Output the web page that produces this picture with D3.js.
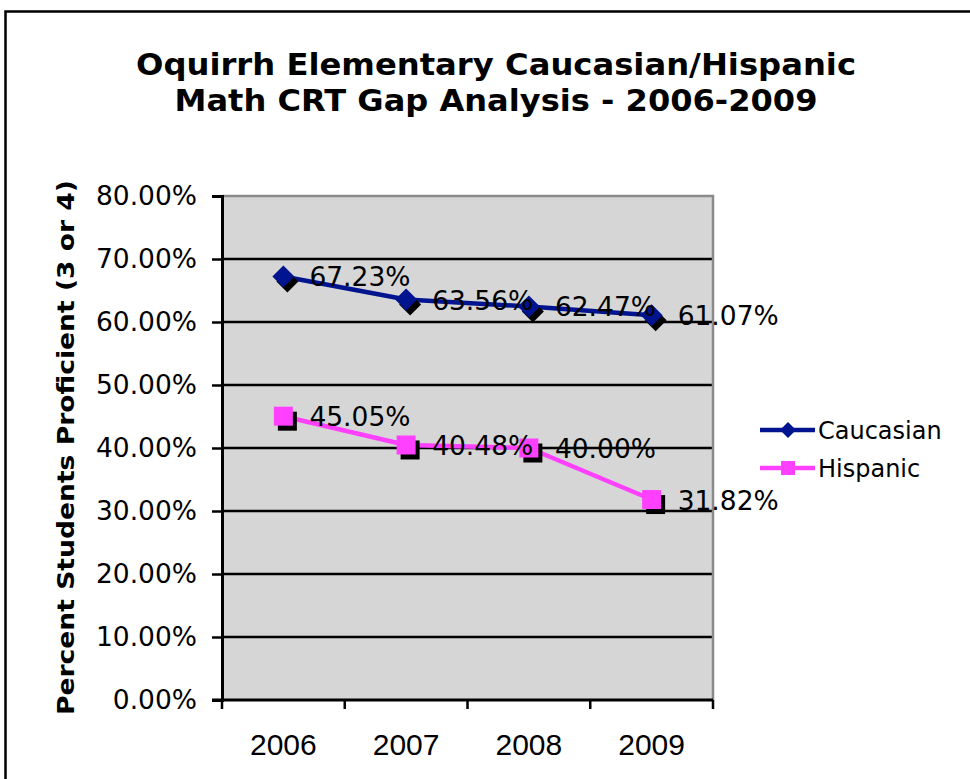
<!DOCTYPE html>
<html>
<head>
<meta charset="utf-8">
<script src="https://cdn.jsdelivr.net/npm/d3@7"></script>
<style>
  html, body { margin: 0; padding: 0; background: #fff; }
  svg { display: block; }
</style>
</head>
<body>
<div id="chart"></div>
<script>
const WIDTH = 970;
const HEIGHT = 779;

// data
const years = ["2006", "2007", "2008", "2009"];
const caucasian = [0.6723, 0.6356, 0.6247, 0.6107];
const hispanic = [0.4505, 0.4048, 0.4000, 0.3182];
const yTicks = [0, 0.1, 0.2, 0.3, 0.4, 0.5, 0.6, 0.7, 0.8];
const seriesNames = ["Caucasian", "Hispanic"];

const NAVY = "#00148f";
const PINK = "#ff40ff";
const plot = { left: 222, right: 713, top: 196, bottom: 700 };

const svg = d3.select("#chart").append("svg")
  .attr("width", WIDTH)
  .attr("height", HEIGHT);

// outer chart frame (runs off the right/bottom edge)
svg.append("rect")
  .attr("x", 5.5).attr("y", 11.5)
  .attr("width", 1000).attr("height", 1000)
  .attr("fill", "#fff")
  .attr("stroke", "#000")
  .attr("stroke-width", 2.5);

// title
const titleLines = [
  { t: "Oquirrh Elementary Caucasian/Hispanic", y: 75, len: 720 },
  { t: "Math CRT Gap Analysis - 2006-2009", y: 111, len: 643 }
];
svg.selectAll("text.title")
  .data(titleLines)
  .enter().append("text")
  .attr("class", "title")
  .attr("x", 496)
  .attr("y", d => d.y)
  .attr("text-anchor", "middle")
  .attr("font-family", "DejaVu Sans, Verdana, sans-serif")
  .attr("font-weight", "bold")
  .attr("font-size", 30)
  .attr("textLength", d => d.len)
  .attr("lengthAdjust", "spacingAndGlyphs")
  .text(d => d.t);

// scales
const x = d3.scaleBand().domain(years).range([plot.left, plot.right]).padding(0);
const y = d3.scaleLinear().domain([0, 0.8]).range([plot.bottom, plot.top]);
const cx = d => x(d) + x.bandwidth() / 2;

// plot area
svg.append("rect")
  .attr("x", plot.left).attr("y", plot.top)
  .attr("width", plot.right - plot.left)
  .attr("height", plot.bottom - plot.top)
  .attr("fill", "#d6d6d6");

// gridlines
svg.append("g")
  .selectAll("line")
  .data(yTicks.filter(v => v > 0 && v < 0.8))
  .enter().append("line")
  .attr("x1", plot.left).attr("x2", plot.right)
  .attr("y1", d => y(d)).attr("y2", d => y(d))
  .attr("stroke", "#000")
  .attr("stroke-width", 2.5);

// top + right border of plot area
svg.append("path")
  .attr("d", `M${plot.left},${plot.top}H${plot.right}V${plot.bottom}`)
  .attr("fill", "none")
  .attr("stroke", "#8a8a8a")
  .attr("stroke-width", 2.5);

// y axis
const yAxis = d3.axisLeft(y)
  .tickValues(yTicks)
  .tickSize(10)
  .tickPadding(15)
  .tickFormat(d => (d * 100).toFixed(2) + "%");
const yg = svg.append("g")
  .attr("transform", `translate(${plot.left},0)`)
  .call(yAxis);
yg.select(".domain").attr("stroke", "#000").attr("stroke-width", 3);
yg.selectAll(".tick line").attr("stroke", "#000").attr("stroke-width", 2.5);
yg.selectAll(".tick text")
  .attr("font-family", "DejaVu Sans, Verdana, sans-serif")
  .attr("font-size", 26.5)
  .attr("fill", "#000");

// x axis: ticks on band edges, labels in band centres
const xg = svg.append("g");
xg.append("line")
  .attr("x1", plot.left - 10).attr("x2", plot.right)
  .attr("y1", plot.bottom).attr("y2", plot.bottom)
  .attr("stroke", "#000").attr("stroke-width", 3);
const edges = years.map(d => x(d)).concat([x(years[years.length - 1]) + x.bandwidth()]);
xg.selectAll("line.tk")
  .data(edges)
  .enter().append("line")
  .attr("class", "tk")
  .attr("x1", d => d).attr("x2", d => d)
  .attr("y1", plot.bottom).attr("y2", plot.bottom + 9)
  .attr("stroke", "#000").attr("stroke-width", 2.5);
xg.selectAll("text")
  .data(years)
  .enter().append("text")
  .attr("x", d => cx(d))
  .attr("y", 755)
  .attr("text-anchor", "middle")
  .attr("font-family", "Liberation Sans, Arial, sans-serif")
  .attr("font-size", 30)
  .text(d => d);

// y axis title
svg.append("text")
  .attr("transform", `translate(74,${(180 + 715) / 2}) rotate(-90)`)
  .attr("text-anchor", "middle")
  .attr("font-family", "DejaVu Sans, Verdana, sans-serif")
  .attr("font-weight", "bold")
  .attr("font-size", 23)
  .attr("textLength", 535)
  .attr("lengthAdjust", "spacingAndGlyphs")
  .text("Percent Students Proficient (3 or 4)");

// series
const line = d3.line()
  .x((d, i) => cx(years[i]))
  .y(d => y(d));

const diamond = s => `M0,${-s}L${s},0L0,${s}L${-s},0Z`;
const square = s => `M${-s},${-s}H${s}V${s}H${-s}Z`;

const series = [
  { name: seriesNames[0], values: caucasian, color: NAVY, shape: diamond, size: 11 },
  { name: seriesNames[1], values: hispanic, color: PINK, shape: square, size: 9.5 }
];

series.forEach(s => {
  svg.append("path")
    .attr("d", line(s.values))
    .attr("fill", "none")
    .attr("stroke", s.color)
    .attr("stroke-width", 4.5)
    .attr("stroke-linejoin", "round");

  // black drop shadow behind each marker
  svg.append("g").selectAll("path")
    .data(s.values)
    .enter().append("path")
    .attr("d", s.shape(s.size))
    .attr("transform", (d, i) => `translate(${cx(years[i]) + 4},${y(d) + 5})`)
    .attr("fill", "#000");

  svg.append("g").selectAll("path")
    .data(s.values)
    .enter().append("path")
    .attr("d", s.shape(s.size))
    .attr("transform", (d, i) => `translate(${cx(years[i])},${y(d)})`)
    .attr("fill", s.color);
});

// data labels
series.forEach(s => {
  svg.append("g").selectAll("text")
    .data(s.values)
    .enter().append("text")
    .attr("x", (d, i) => cx(years[i]) + 26)
    .attr("y", d => y(d) + 10)
    .attr("font-family", "DejaVu Sans, Verdana, sans-serif")
    .attr("font-size", 26.5)
    .attr("fill", "#000")
    .text(d => (d * 100).toFixed(2) + "%");
});

// legend
const legend = svg.append("g");
series.forEach((s, i) => {
  const ly = 430 + i * 38;
  legend.append("line")
    .attr("x1", 760).attr("x2", 815)
    .attr("y1", ly).attr("y2", ly)
    .attr("stroke", s.color).attr("stroke-width", 4.5);
  legend.append("path")
    .attr("d", s.shape(s.shape === diamond ? 8 : 7))
    .attr("transform", `translate(788,${ly})`)
    .attr("fill", s.color);
  legend.append("text")
    .attr("x", 818)
    .attr("y", ly + 9)
    .attr("font-family", "DejaVu Sans, Verdana, sans-serif")
    .attr("font-size", 24)
    .text(s.name);
});
</script>
</body>
</html>
